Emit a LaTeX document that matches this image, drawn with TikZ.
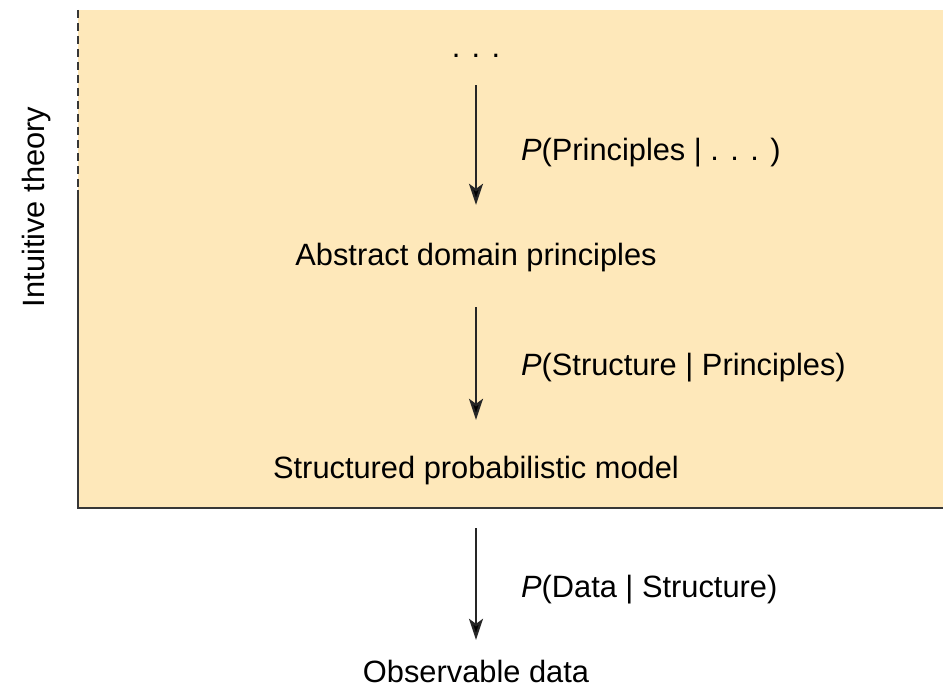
\documentclass[tikz,border=0pt]{standalone}
\usepackage{fontspec}
\setmainfont{Liberation Sans}
\usetikzlibrary{arrows.meta,positioning}
\definecolor{theorybg}{RGB}{254,232,186}
\definecolor{rule}{RGB}{55,55,55}

\begin{document}
\begin{tikzpicture}[x=1pt,y=-1pt,
    every node/.style={font=\fontsize{30.8}{37}\selectfont,inner sep=0pt,text height=22pt,text depth=7pt},
    level/.style={anchor=base},
    prob/.style={right=44pt},
    >={Stealth[length=21pt,width=14pt,inset=5pt]}]
   \useasboundingbox (0,0) rectangle (943,687);
   % shaded theory region
   \fill[theorybg] (78,10) rectangle (943,508);
   \draw[rule,line width=2.4pt,dash pattern=on 8pt off 5pt] (78,10) -- (78,190);
   \draw[rule,line width=2.4pt] (78,190) -- (78,508) -- (943,508);
   \node[rotate=90,anchor=base] (theory) at (44,207) {Intuitive theory};
   % levels
   \node[level] (dots) at (476,58) {. . .};
   \node[level] (abstract) at (476,266) {Abstract domain principles};
   \node[level] (structured) at (476,478) {Structured probabilistic model};
   \node[level] (observable) at (476,682) {Observable data};
   \path[->,draw=black!85,line width=2.2pt]
    (dots) edge[shorten <=20pt,shorten >=39pt]
        node[prob,pos=.49] {\textit{P}(Principles | . . . )} (abstract)
    (abstract) edge[shorten <=34pt,shorten >=36pt]
        node[prob,pos=.52] {\textit{P}(Structure | Principles)} (structured)
    (structured) edge[shorten <=43pt,shorten >=20pt]
        node[prob,pos=.60] {\textit{P}(Data | Structure)} (observable)
    ;
\end{tikzpicture}
\end{document}
